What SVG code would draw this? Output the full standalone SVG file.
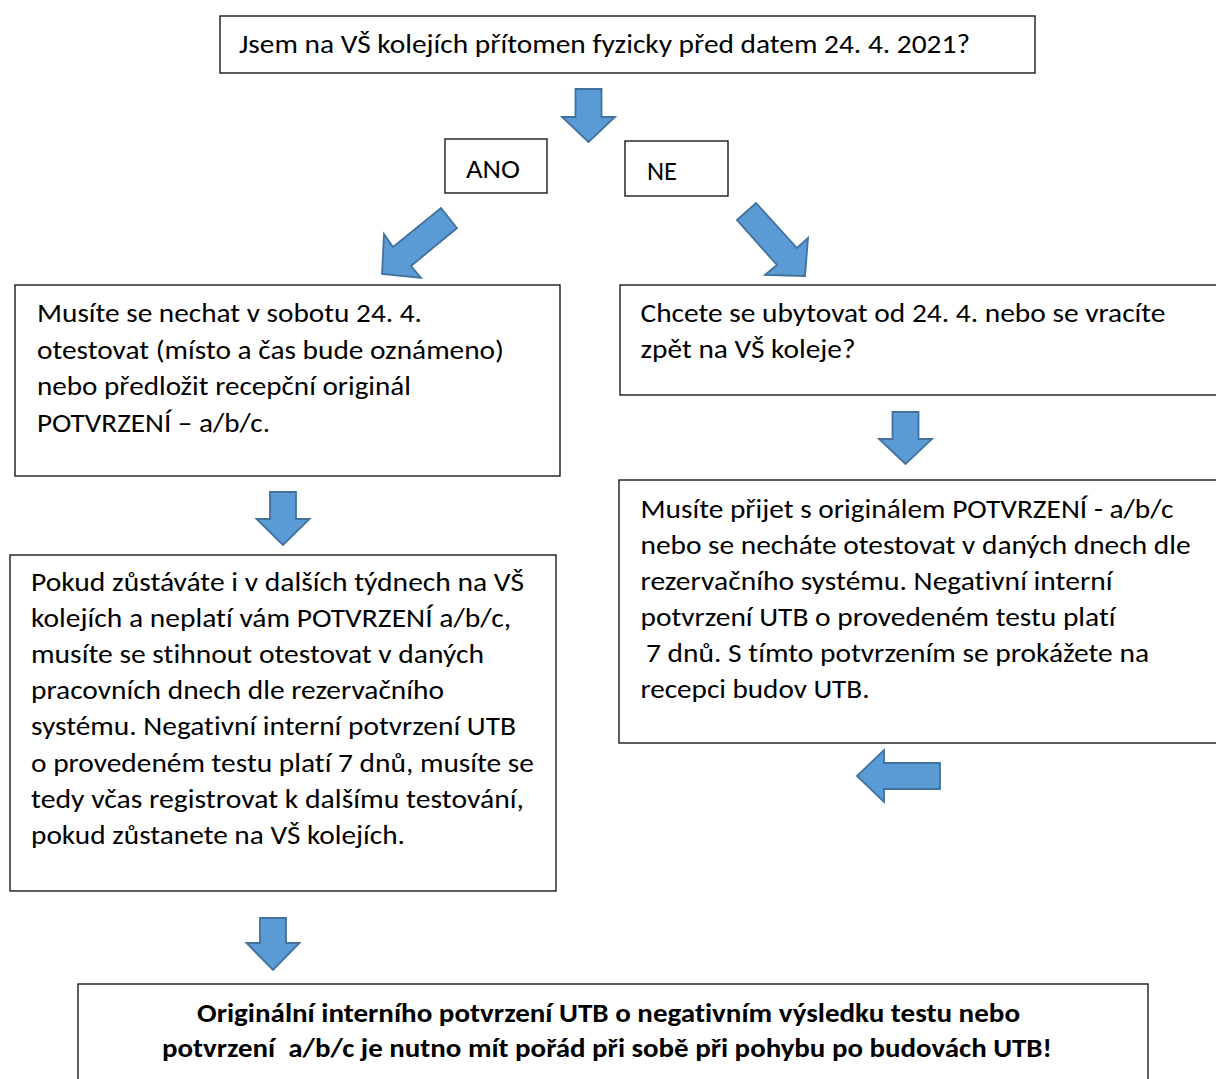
<svg xmlns="http://www.w3.org/2000/svg" width="1216" height="1079" viewBox="0 0 1216 1079">
<style>
.box{fill:#fff;stroke:#1a1a1a;stroke-width:1.4}
.t{font-family:Carlito,Calibri,"Liberation Sans",Arial,sans-serif;font-size:26px;fill:#000;font-variant-ligatures:none}
.b{font-weight:bold;text-anchor:middle}
.arr{fill:#5B9BD5;stroke:#41719C;stroke-width:1.8;stroke-linejoin:miter}
</style>
<rect width="1216" height="1079" fill="#fff"/>
<g id="connectors">
<polygon class="arr" points="575.5,89 601.5,89 601.5,117 615,117 588.5,142 562,117 575.5,117"/>
<polygon class="arr" points="441,208 457,228 411,266 421,278 382,274 384,234 393,247"/>
<polygon class="arr" points="737,220 756,203 797,248 808,238 805,276 765,275 777,265"/>
<polygon class="arr" points="270,492 296,492 296,519 309.5,519 283,545 256.5,519 270,519"/>
<polygon class="arr" points="892.5,412 918.5,412 918.5,439 932,439 905.5,464 879,439 892.5,439"/>
<polygon class="arr" points="940,763 940,789 884,789 884,802 857,776 884,750 884,763"/>
<polygon class="arr" points="260,918 286,918 286,943 299.5,943 273,970 246.5,943 260,943"/>
</g>
<g id="q1">
<rect class="box" x="220" y="16" width="815" height="57"/>
<text class="t" x="239" y="53" textLength="731" lengthAdjust="spacingAndGlyphs">Jsem na VŠ kolejích přítomen fyzicky před datem 24. 4. 2021?</text>
</g>
<g id="ano">
<rect class="box" x="445" y="139" width="102" height="54"/>
<text class="t" x="466" y="178" textLength="54" lengthAdjust="spacingAndGlyphs">ANO</text>
</g>
<g id="ne">
<rect class="box" x="625" y="141" width="103" height="55"/>
<text class="t" x="647" y="180" textLength="30" lengthAdjust="spacingAndGlyphs">NE</text>
</g>
<g id="ano1">
<rect class="box" x="15" y="285" width="545" height="191"/>
<text class="t" x="37" y="322" textLength="385" lengthAdjust="spacingAndGlyphs">Musíte se nechat v sobotu 24. 4.</text>
<text class="t" x="37" y="359" textLength="467" lengthAdjust="spacingAndGlyphs">otestovat (místo a čas bude oznámeno)</text>
<text class="t" x="37" y="395" textLength="374" lengthAdjust="spacingAndGlyphs">nebo předložit recepční originál</text>
<text class="t" x="37" y="432" textLength="233" lengthAdjust="spacingAndGlyphs">POTVRZENÍ – a/b/c.</text>
</g>
<g id="ano2">
<rect class="box" x="10" y="555" width="546" height="336"/>
<text class="t" x="31" y="591" textLength="493" lengthAdjust="spacingAndGlyphs">Pokud zůstáváte i v dalších týdnech na VŠ</text>
<text class="t" x="31" y="627" textLength="480" lengthAdjust="spacingAndGlyphs">kolejích a neplatí vám POTVRZENÍ a/b/c,</text>
<text class="t" x="31" y="663" textLength="453" lengthAdjust="spacingAndGlyphs">musíte se stihnout otestovat v daných</text>
<text class="t" x="31" y="699" textLength="413" lengthAdjust="spacingAndGlyphs">pracovních dnech dle rezervačního</text>
<text class="t" x="31" y="735" textLength="485" lengthAdjust="spacingAndGlyphs">systému. Negativní interní potvrzení UTB</text>
<text class="t" x="31" y="772" textLength="503" lengthAdjust="spacingAndGlyphs">o provedeném testu platí 7 dnů, musíte se</text>
<text class="t" x="31" y="808" textLength="493" lengthAdjust="spacingAndGlyphs">tedy včas registrovat k dalšímu testování,</text>
<text class="t" x="31" y="844" textLength="374" lengthAdjust="spacingAndGlyphs">pokud zůstanete na VŠ kolejích.</text>
</g>
<g id="ne1">
<rect class="box" x="620" y="285" width="610" height="110"/>
<text class="t" x="640.5" y="322" textLength="525" lengthAdjust="spacingAndGlyphs">Chcete se ubytovat od 24. 4. nebo se vracíte</text>
<text class="t" x="640.5" y="358" textLength="215" lengthAdjust="spacingAndGlyphs">zpět na VŠ koleje?</text>
</g>
<g id="ne2">
<rect class="box" x="619" y="480" width="611" height="263"/>
<text class="t" x="640.5" y="518" textLength="533" lengthAdjust="spacingAndGlyphs">Musíte přijet s originálem POTVRZENÍ - a/b/c</text>
<text class="t" x="640.5" y="554" textLength="550" lengthAdjust="spacingAndGlyphs">nebo se necháte otestovat v daných dnech dle</text>
<text class="t" x="640.5" y="590" textLength="472" lengthAdjust="spacingAndGlyphs">rezervačního systému. Negativní interní</text>
<text class="t" x="640.5" y="626" textLength="475" lengthAdjust="spacingAndGlyphs">potvrzení UTB o provedeném testu platí</text>
<text class="t" x="646" y="662" textLength="503" lengthAdjust="spacingAndGlyphs">7 dnů. S tímto potvrzením se prokážete na</text>
<text class="t" x="640.5" y="698" textLength="229" lengthAdjust="spacingAndGlyphs">recepci budov UTB.</text>
</g>
<g id="final">
<rect class="box" x="78" y="984" width="1070" height="120"/>
<text class="t b" x="608.5" y="1022" textLength="823" lengthAdjust="spacingAndGlyphs">Originální interního potvrzení UTB o negativním výsledku testu nebo</text>
<text class="t b" x="607" y="1057" xml:space="preserve" textLength="890" lengthAdjust="spacingAndGlyphs">potvrzení  a/b/c je nutno mít pořád při sobě při pohybu po budovách UTB!</text>
</g>
</svg>
